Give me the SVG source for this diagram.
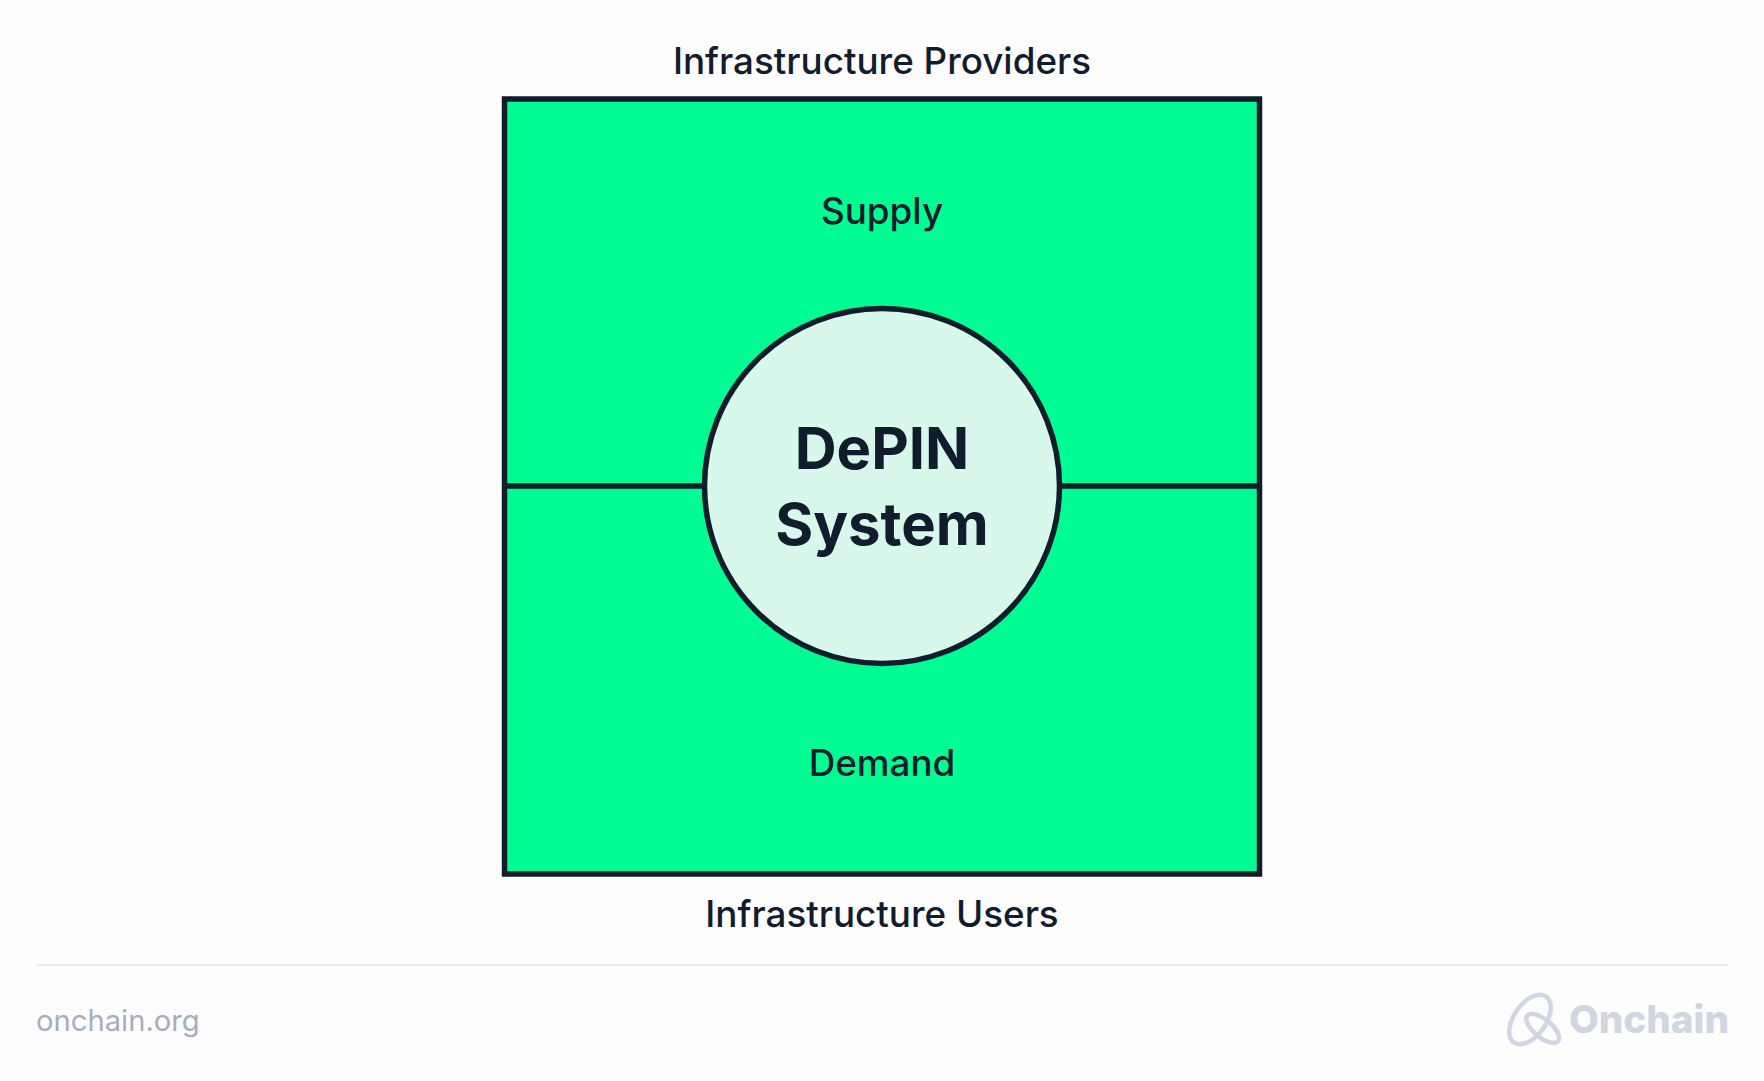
<svg xmlns="http://www.w3.org/2000/svg" width="1764" height="1081" viewBox="0 0 1764 1081">
<style>
.t{font-family:Inter,"Liberation Sans",sans-serif;fill:#111c2d;text-anchor:middle}
.i{font-size:36.800px;font-weight:500}
.b{font-size:58px;font-weight:700}
.s{fill:none;stroke:#111c2d;stroke-width:5.500}
</style>
<rect width="1764" height="1081" fill="#fdfdfe"/>
<g id="supply-demand-box">
<rect x="504.500" y="99" width="755" height="775" fill="#00fc92" stroke="#111c2d" stroke-width="5.500"/>
</g>
<g id="connectors">
<line class="s" x1="504" y1="486" x2="704" y2="486"/>
<line class="s" x1="1060" y1="486" x2="1260" y2="486"/>
</g>
<g id="depin-system">
<circle cx="882" cy="486" r="177.500" fill="#d7f8ea" stroke="#111c2d" stroke-width="5.500"/>
<text class="t b" x="882" y="469">DePIN</text>
<text class="t b" x="882" y="545">System</text>
</g>
<g id="labels">
<text class="t i" x="882" y="74">Infrastructure Providers</text>
<text class="t i" x="882" y="223.500">Supply</text>
<text class="t i" x="882" y="775.500">Demand</text>
<text class="t i" x="882" y="926.500">Infrastructure Users</text>
</g>
<g id="footer">
<line x1="36" y1="965" x2="1728" y2="965" stroke="#e2e4e9" stroke-width="1.500"/>
<text x="36" y="1031" font-family="Inter,'Liberation Sans',sans-serif" font-size="29.200" fill="#a6aebd">onchain.org</text>
<g fill="none" stroke="#d0d6e2" stroke-width="4.500">
<ellipse cx="1530" cy="1019.500" rx="28" ry="16" transform="rotate(-55 1530 1019.500)"/>
<ellipse cx="1542.700" cy="1028.300" rx="20" ry="9" transform="rotate(40 1542.700 1028.300)"/>
</g>
<text x="1569" y="1033" font-family="Inter,'Liberation Sans',sans-serif" font-size="38.600" font-weight="800" fill="#d0d6e2">Onchain</text>
</g>
</svg>
